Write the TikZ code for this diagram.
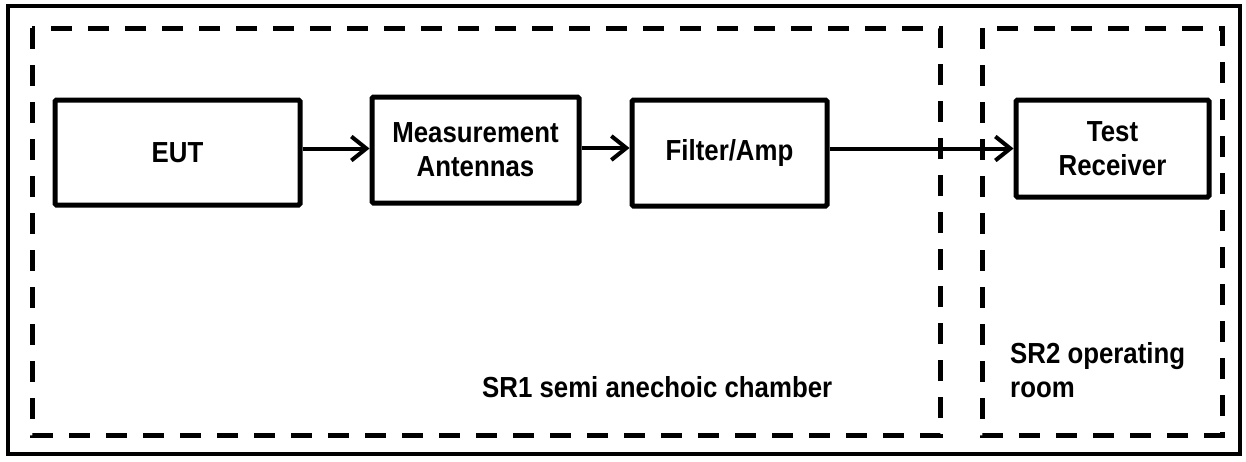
\documentclass[tikz,border=0pt]{standalone}
\usepackage{fontspec}
\setmainfont{Liberation Sans}
\usetikzlibrary{arrows.meta}
\newcommand\nx[1]{\scalebox{0.89}[1]{#1}}
\begin{document}
\begin{tikzpicture}[x=1pt,y=-1pt,
  blk/.style={draw,line width=5pt,rounded corners=1.5pt,inner sep=0pt,align=center,
    font=\fontsize{29}{34}\selectfont\bfseries},
  arr/.style={line width=4pt,-{Straight Barb[length=15pt,width=24pt,line width=4pt]}},
  zone/.style={line width=5pt,dash pattern=on 21pt off 16pt,line cap=butt},
  lbl/.style={font=\fontsize{29}{34}\selectfont\bfseries,inner sep=0pt,align=left}]
\useasboundingbox (0,0) rectangle (1246,461);
\fill[white] (0,0) rectangle (1246,461);
\draw[line width=4pt] (8,6) rectangle (1240,454);
\draw[zone] (32,28) rectangle (940,435);
\draw[zone] (982,28) rectangle (1222,435);
\node[blk,minimum width=245pt,minimum height=105pt] (eut) at (177.5,152.5) {\nx{EUT}};
\node[blk,minimum width=207pt,minimum height=106pt] (ant) at (475.5,150) {\nx{Measurement}\\\nx{Antennas}};
\node[blk,minimum width=195pt,minimum height=106pt] (fil) at (729.5,153) {\nx{Filter/Amp}};
\node[blk,minimum width=193pt,minimum height=97pt] (rx) at (1112.5,148.5) {\nx{Test}\\\nx{Receiver}};
\draw[arr] ([yshift=4pt]eut.east) -- ([yshift=4pt]eut.east -| ant.west);
\draw[arr] ([yshift=2pt]ant.east) -- ([yshift=2pt]ant.east -| fil.west);
\draw[arr] (rx.west -| fil.east) -- (rx.west);
\node[lbl,anchor=base west] (sr1) at (482,397) {\nx{SR1 semi anechoic chamber}};
\node[lbl,anchor=base west] (sr2) at (1010,363) {\nx{SR2 operating}};
\node[lbl,anchor=base west] (sr2b) at (1010,397) {\nx{room}};
\end{tikzpicture}
\end{document}
